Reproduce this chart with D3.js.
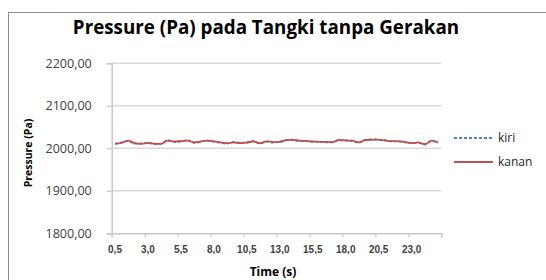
<!DOCTYPE html>
<html>
<head>
<meta charset="utf-8">
<script src="https://cdn.jsdelivr.net/npm/d3@7"></script>
<style>
  html, body { margin: 0; padding: 0; background: #fff; }
  svg { display: block; }
</style>
</head>
<body>
<svg id="chart" width="546" height="280"></svg>
<script>
const time = [0.5,1.0,1.5,2.0,2.5,3.0,3.5,4.0,4.5,5.0,5.5,6.0,6.5,7.0,7.5,8.0,8.5,9.0,9.5,10.0,
  10.5,11.0,11.5,12.0,12.5,13.0,13.5,14.0,14.5,15.0,15.5,16.0,16.5,17.0,17.5,18.0,18.5,19.0,19.5,20.0,
  20.5,21.0,21.5,22.0,22.5,23.0,23.5,24.0,24.5,25.0];
const kanan = [2010.5,2013,2018,2012,2010.5,2012.5,2011,2010.5,2018,2016,2017,2018,2014,2016,2018,2016.5,2014,2012,2014,2012,
  2014,2016,2012,2016.5,2014.5,2015,2019,2020,2018,2017,2016,2015,2015,2014,2020,2018,2018,2014,2019.5,2020,
  2020.5,2018,2017,2016.5,2015,2012,2014,2009,2018,2014];
const kiri = [2011,2014,2017,2011,2011.5,2013,2010,2011,2019,2015,2016,2019,2013,2015,2018.5,2015.5,2013,2011,2015,2013,
  2013,2017,2011,2015.5,2013.5,2016,2020,2019,2017,2018,2015,2016,2014,2015,2019,2019,2017,2013,2020,2021,
  2019.5,2019,2016,2017,2014,2013,2013,2010,2017,2015];
const yTicks = [1800,1900,2000,2100,2200];
const gridValues = [1900,2000,2100,2200];
const seriesNames = ["kiri","kanan"];

const svg = d3.select("#chart");
const L = d3.formatLocale({decimal: ",", thousands: ".", grouping: [3], currency: ["", ""]});
const fmtY = L.format(".2f");
const fmtX = L.format(".1f");

const pLeft = 111.7, pRight = 441.3, pTop = 63.3, pBottom = 233.3;

// frame
svg.append("rect").attr("x", 8.5).attr("y", 12.5).attr("width", 600).attr("height", 300)
  .attr("fill", "none").attr("stroke", "#8c8c8c").attr("stroke-width", 1);

const x = d3.scaleBand().domain(time).range([pLeft, pRight]).padding(0);
const xi = d3.scaleLinear().domain([0, time.length]).range([pLeft, pRight]);
const y = d3.scaleLinear().domain([1800, 2200]).range([pBottom, pTop]);

// gridlines
svg.append("g").selectAll("line").data(gridValues).join("line")
  .attr("x1", pLeft).attr("x2", pRight)
  .attr("y1", d => y(d)).attr("y2", d => y(d))
  .attr("stroke", "#d9d9d9").attr("stroke-width", 1.5);

// y axis
const yAx = svg.append("g").attr("transform", `translate(${pLeft},0)`)
  .call(d3.axisLeft(y).tickValues(yTicks).tickSize(5).tickPadding(15).tickFormat(fmtY));
yAx.select(".domain").attr("stroke", "#c8c8c8").attr("stroke-width", 1.5);
yAx.selectAll(".tick line").attr("stroke", "#c8c8c8").attr("stroke-width", 1.2);
yAx.selectAll(".tick text").attr("fill", "#404040")
  .style("font-family", "'Open Sans', sans-serif").style("font-size", "12.5px");

// x axis tick marks
const xTickIdx = [0,5,10,15,20,25,30,35,40,45,50];
const xAxMarks = svg.append("g").attr("transform", `translate(0,${pBottom})`)
  .call(d3.axisBottom(xi).tickValues(xTickIdx).tickSize(4).tickFormat(""));
xAxMarks.select(".domain").attr("stroke", "#c8c8c8").attr("stroke-width", 1.5);
xAxMarks.selectAll(".tick line").attr("stroke", "#c8c8c8").attr("stroke-width", 1.2);

// x axis labels
const labelCats = time.filter((d, i) => i % 5 === 0);
const xAxLab = svg.append("g").attr("transform", `translate(0,${pBottom})`)
  .call(d3.axisBottom(x).tickValues(labelCats).tickSize(0).tickPadding(13).tickFormat(fmtX));
xAxLab.select(".domain").remove();
xAxLab.selectAll(".tick text").attr("fill", "#404040")
  .style("font-family", "'Liberation Sans', sans-serif").style("font-size", "10px").style("font-weight", "bold");

// lines
const cx = d => x(d) + x.bandwidth() / 2;
const lineGen = vals => d3.line().x((d, i) => cx(time[i])).y(d => y(d)).curve(d3.curveMonotoneX)(vals);

svg.append("path").attr("d", lineGen(kiri)).attr("fill", "none")
  .attr("stroke", "#4f81bd").attr("stroke-width", 1.8).attr("stroke-dasharray", "3,2");
svg.append("path").attr("d", lineGen(kanan)).attr("fill", "none")
  .attr("stroke", "#c0504d").attr("stroke-width", 1.8);

// legend
const legend = svg.append("g");
const legY = [138, 162];
const legStyle = [{c: "#4f81bd", dash: "3,2"}, {c: "#c0504d", dash: null}];
seriesNames.forEach((name, i) => {
  legend.append("line").attr("x1", 454).attr("x2", 493).attr("y1", legY[i]).attr("y2", legY[i])
    .attr("stroke", legStyle[i].c).attr("stroke-width", 1.8).attr("stroke-dasharray", legStyle[i].dash);
  legend.append("text").attr("x", 498).attr("y", legY[i]).attr("dy", "0.35em")
    .attr("fill", "#262626").style("font-family", "'Open Sans', sans-serif").style("font-size", "12px")
    .text(name);
});

// title
svg.append("text").attr("x", 266).attr("y", 34).attr("text-anchor", "middle")
  .attr("fill", "#000").style("font-family", "'Open Sans', sans-serif").style("font-size", "18.8px").style("font-weight", "bold")
  .text("Pressure (Pa) pada Tangki tanpa Gerakan");

// axis titles
svg.append("text").attr("x", 273).attr("y", 272).attr("dy", "0.35em").attr("text-anchor", "middle")
  .attr("fill", "#000").style("font-family", "'Open Sans', sans-serif").style("font-size", "12px").style("font-weight", "bold")
  .text("Time (s)");
svg.append("text").attr("transform", "translate(28,153) rotate(-90)").attr("dy", "0.35em").attr("text-anchor", "middle")
  .attr("fill", "#000").style("font-family", "'Open Sans', sans-serif").style("font-size", "10.5px").style("font-weight", "bold")
  .text("Pressure (Pa)");
</script>
</body>
</html>
